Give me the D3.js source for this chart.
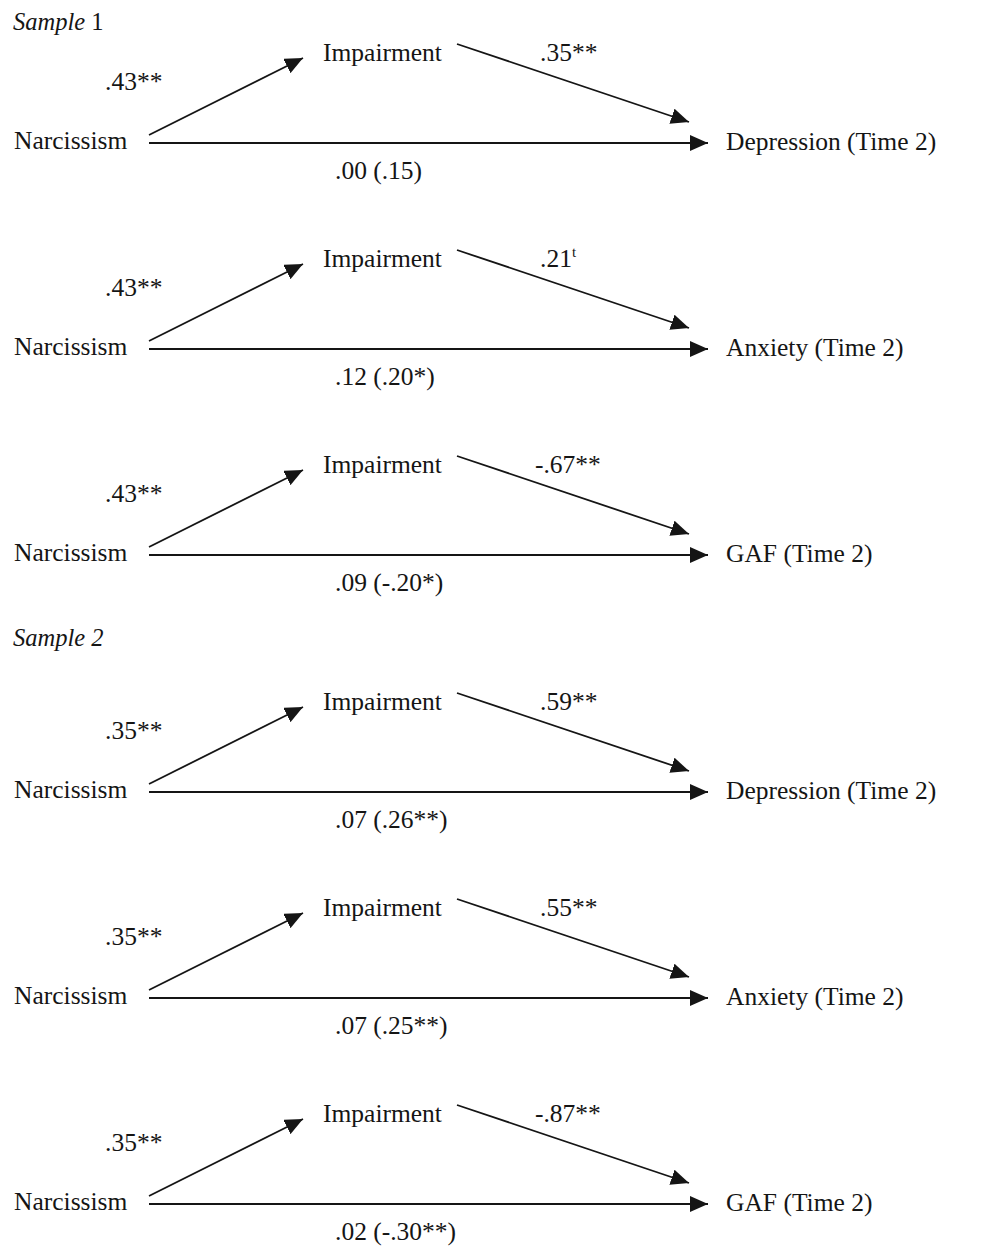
<!DOCTYPE html>
<html>
<head>
<meta charset="utf-8">
<script src="https://cdn.jsdelivr.net/npm/d3@7"></script>
<style>
  html, body { margin: 0; padding: 0; background: #fff; }
  svg { display: block; }
  text { font-family: "Liberation Serif", "Times New Roman", serif; fill: #151515; }
</style>
</head>
<body>
<svg id="chart" width="992" height="1248"></svg>
<script>
// ---- data ----
const samples = ["Sample 1", "Sample 2"];
const sampleItalic = ["Sample", "Sample 2"];
const sampleRoman = [" 1", ""];
const predictor = "Narcissism";
const mediator = "Impairment";
const outcomes = ["Depression (Time 2)", "Anxiety (Time 2)", "GAF (Time 2)"];
const aPaths = [".43**", ".43**", ".43**", ".35**", ".35**", ".35**"];
const bPaths = [".35**", ".21", "-.67**", ".59**", ".55**", "-.87**"];
const bSup = ["", "t", "", "", "", ""];
const cPaths = [".00 (.15)", ".12 (.20*)", ".09 (-.20*)", ".07 (.26**)", ".07 (.25**)", ".02 (-.30**)"];

// ---- layout ----
const svg = d3.select("#chart");
const FS = 25.5;
const ink = "#151515";

const sampleY = d3.scaleOrdinal().domain(samples).range([143, 792]);
const headerY = d3.scaleOrdinal().domain(samples).range([30, 646]);
const rowY = d3.scaleLinear().domain([0, 2]).range([0, 412]);
const xNode = d3.scaleOrdinal()
  .domain(["predLabel", "predEnd", "medTip", "medLabel", "medStart", "outTip", "outLabel", "aLabel", "bLabel", "cLabel"])
  .range([14, 149, 303, 323, 457, 708, 726, 105, 540, 335]);

const defs = svg.append("defs");
defs.append("marker")
  .attr("id", "arrow")
  .attr("markerUnits", "userSpaceOnUse")
  .attr("viewBox", "0 0 18 16")
  .attr("refX", 18).attr("refY", 8)
  .attr("markerWidth", 18).attr("markerHeight", 16)
  .attr("orient", "auto")
  .append("path")
  .attr("d", "M0,0 L18,8 L0,16 Z")
  .attr("fill", ink);

const panels = [];
samples.forEach((s, si) => {
  outcomes.forEach((o, oi) => {
    panels.push({ sample: s, si, outcome: o, idx: si * 3 + oi, y: sampleY(s) + rowY(oi) });
  });
});

// sample headers
samples.forEach((s, si) => {
  const t = svg.append("text")
    .attr("x", 13)
    .attr("y", headerY(s))
    .attr("font-size", FS - 1);
  t.append("tspan").attr("font-style", "italic").text(sampleItalic[si]);
  if (sampleRoman[si]) t.append("tspan").text(sampleRoman[si]);
});

const g = svg.selectAll("g.panel").data(panels).join("g")
  .attr("class", "panel")
  .attr("transform", d => `translate(0,${d.y})`);

// predictor label
g.append("text").attr("x", xNode("predLabel")).attr("y", 6).attr("font-size", FS).text(predictor);
// mediator label
g.append("text").attr("x", xNode("medLabel")).attr("y", -82).attr("font-size", FS).text(mediator);
// outcome label
g.append("text").attr("x", xNode("outLabel")).attr("y", 7).attr("font-size", FS).text(d => d.outcome);

// a path
g.append("line")
  .attr("x1", xNode("predEnd")).attr("y1", -8)
  .attr("x2", xNode("medTip")).attr("y2", -85)
  .attr("stroke", ink).attr("stroke-width", 1.8)
  .attr("marker-end", "url(#arrow)");
// b path
g.append("line")
  .attr("x1", xNode("medStart")).attr("y1", -99)
  .attr("x2", xNode("outTip") - 19).attr("y2", -21)
  .attr("stroke", ink).attr("stroke-width", 1.8)
  .attr("marker-end", "url(#arrow)");
// c path
g.append("line")
  .attr("x1", xNode("predEnd")).attr("y1", 0)
  .attr("x2", xNode("outTip")).attr("y2", 0)
  .attr("stroke", ink).attr("stroke-width", 2)
  .attr("marker-end", "url(#arrow)");

// coefficients
g.append("text").attr("x", xNode("aLabel")).attr("y", -53).attr("font-size", FS)
  .text(d => aPaths[d.idx]);
const bt = g.append("text").attr("x", d => xNode("bLabel") - (bPaths[d.idx].startsWith("-") ? 5 : 0))
  .attr("y", -82).attr("font-size", FS);
bt.append("tspan").text(d => bPaths[d.idx]);
bt.filter(d => bSup[d.idx]).append("tspan")
  .attr("font-size", 15).attr("dy", -10).text(d => bSup[d.idx]);
g.append("text").attr("x", xNode("cLabel")).attr("y", 36).attr("font-size", FS)
  .text(d => cPaths[d.idx]);
</script>
</body>
</html>
